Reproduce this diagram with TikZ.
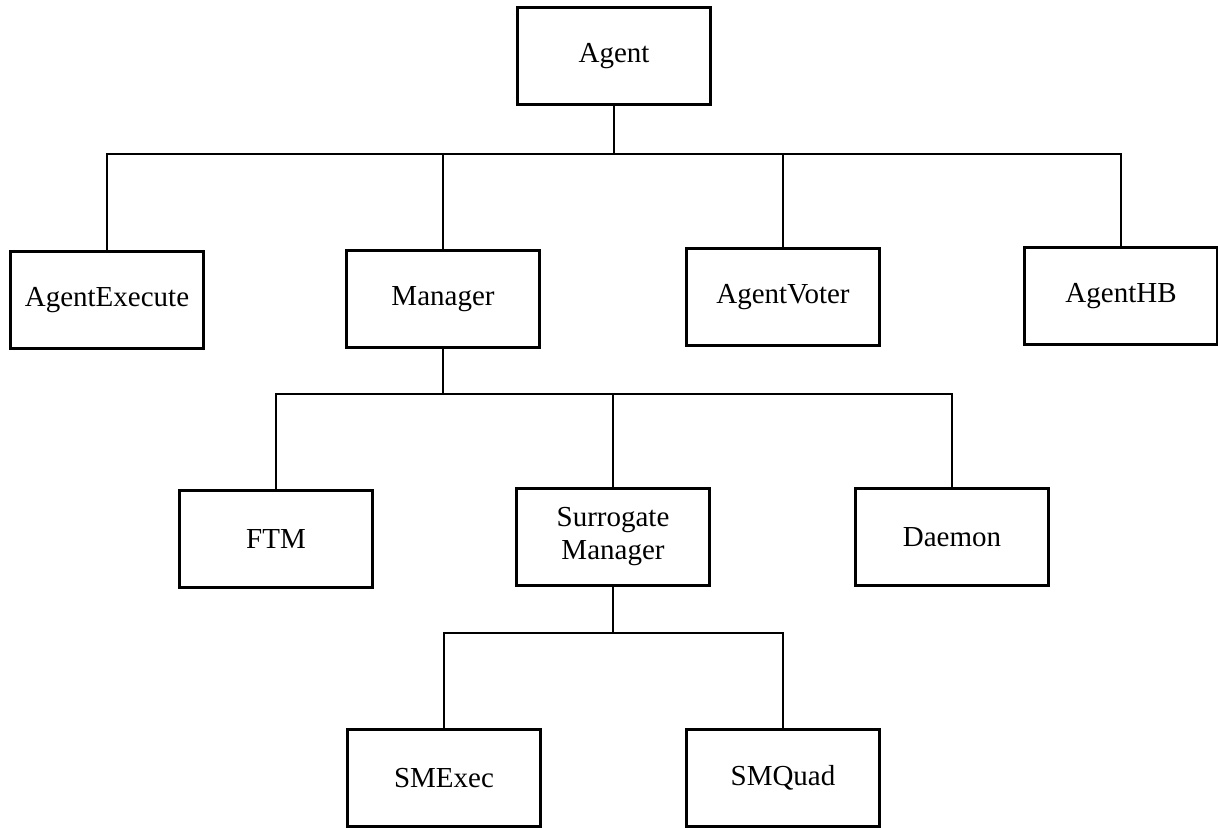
\documentclass[tikz,border=0pt]{standalone}
\usepackage{fontspec}
\setmainfont{Liberation Serif}

\tikzset{
  classbox/.style={draw=black, line width=1.2pt, minimum width=96.5pt, minimum height=48.5pt,
    inner sep=2pt, align=center, font=\fontsize{14.5}{16.5}\selectfont},
  link/.style={draw=black, line width=0.8pt}
}

\begin{document}
\begin{tikzpicture}[x=0.5pt,y=-0.5pt]
  %% page frame, pixel coordinates of the reference
  \useasboundingbox (0,0) rectangle (1218,828);

  %% the class boxes
  \node[classbox] (agent) at (614,56) {Agent};

  \node[classbox] (aexec) at (107,300) {AgentExecute};
  \node[classbox] (manager) at (443,299) {Manager};
  \node[classbox] (avoter) at (783,297) {AgentVoter};
  \node[classbox] (ahb) at (1121,296) {AgentHB};

  \node[classbox] (ftm) at (276,539) {FTM};
  \node[classbox] (surr) at (613,537) {Surrogate\\Manager};
  \node[classbox] (daemon) at (952,537) {Daemon};

  \node[classbox] (smexec) at (444,778) {SMExec};
  \node[classbox] (smquad) at (783,778) {SMQuad};

  %% the levels of the tree
  \coordinate (bar1) at (0,154);
  \coordinate (bar2) at (0,394);
  \coordinate (bar3) at (0,633);

  \draw[link] (agent.south) -- (agent.south |- bar1);
  \draw[link] (aexec.north) -- (aexec.north |- bar1) -- (ahb.north |- bar1) -- (ahb.north);
  \draw[link] (manager.north) -- (manager.north |- bar1);
  \draw[link] (avoter.north) -- (avoter.north |- bar1);

  \draw[link] (manager.south) -- (manager.south |- bar2);
  \draw[link] (ftm.north) -- (ftm.north |- bar2) -- (daemon.north |- bar2) -- (daemon.north);
  \draw[link] (surr.north) -- (surr.north |- bar2);

  \draw[link] (surr.south) -- (surr.south |- bar3);
  \draw[link] (smexec.north) -- (smexec.north |- bar3) -- (smquad.north |- bar3) -- (smquad.north);

\end{tikzpicture}
\end{document}
